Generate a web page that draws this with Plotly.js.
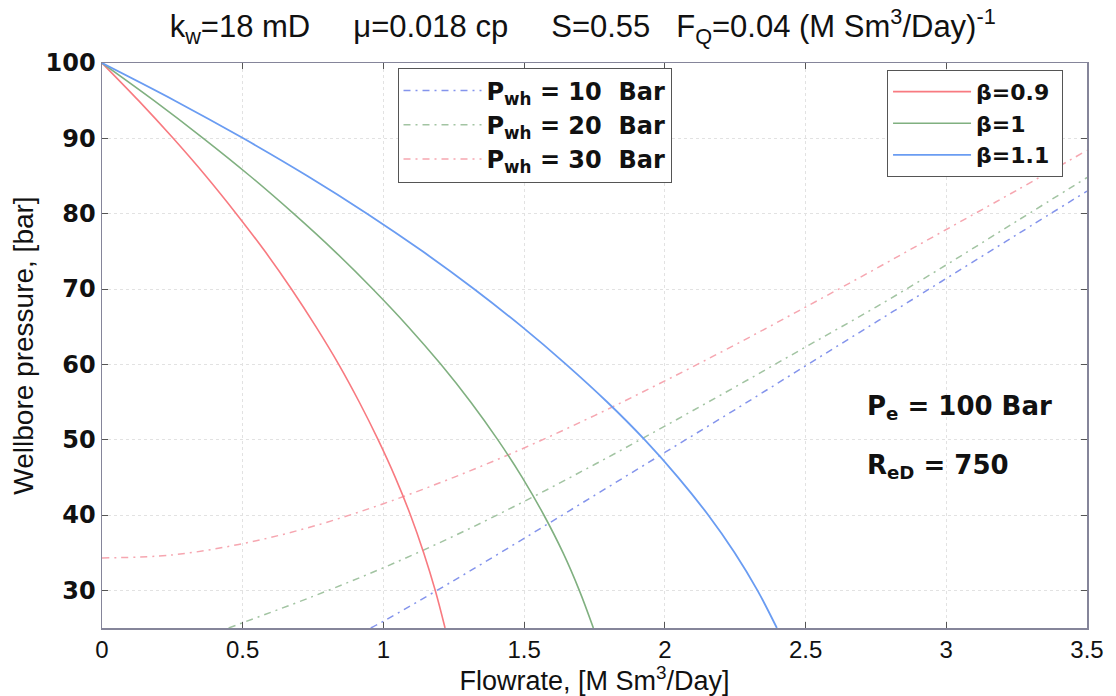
<!DOCTYPE html>
<html>
<head>
<meta charset="utf-8">
<script src="https://cdn.plot.ly/plotly-3.0.1.min.js"></script>
<style>html,body{margin:0;padding:0;background:#fff;}#chart{width:1116px;height:696px;}</style>
</head>
<body>
<div id="chart"></div>
<script>
// IPR curves (solid): flowrate [M Sm3/Day] vs wellbore pressure [bar]
const beta09_q = [0, 0.130, 0.253, 0.369, 0.477, 0.579, 0.673, 0.760, 0.841, 0.914, 0.981, 1.042, 1.096, 1.143, 1.184, 1.219];
const beta09_p = [100, 95, 90, 85, 80, 75, 70, 65, 60, 55, 50, 45, 40, 35, 30, 25];
const beta10_q = [0, 0.185, 0.360, 0.526, 0.681, 0.827, 0.962, 1.088, 1.204, 1.310, 1.406, 1.493, 1.570, 1.638, 1.696, 1.746];
const beta10_p = [100, 95, 90, 85, 80, 75, 70, 65, 60, 55, 50, 45, 40, 35, 30, 25];
const beta11_q = [0, 0.259, 0.502, 0.730, 0.942, 1.139, 1.322, 1.492, 1.649, 1.795, 1.928, 2.047, 2.154, 2.248, 2.329, 2.398];
const beta11_p = [100, 95, 90, 85, 80, 75, 70, 65, 60, 55, 50, 45, 40, 35, 30, 25];
// Tubing curves (dashed)
const pwh10_q = [0.955, 1.0, 1.25, 1.5, 1.75, 2.0, 2.25, 2.5, 2.75, 3.0, 3.25, 3.5];
const pwh10_p = [25, 25.9, 31.3, 36.9, 42.6, 48.3, 54.0, 59.8, 65.6, 71.4, 77.2, 83.0];
const pwh20_q = [0.45, 0.5, 0.75, 1.0, 1.25, 1.5, 1.75, 2.0, 2.25, 2.5, 2.75, 3.0, 3.25, 3.5];
const pwh20_p = [25, 25.7, 29.2, 33.0, 37.2, 41.8, 46.7, 51.8, 57.0, 62.3, 67.6, 73.2, 79.0, 84.8];
const pwh30_q = [0, 0.25, 0.5, 0.75, 1.0, 1.25, 1.5, 1.75, 2.0, 2.25, 2.5, 2.75, 3.0, 3.25, 3.5];
const pwh30_p = [34.3, 34.7, 36.2, 38.5, 41.5, 45.0, 48.9, 53.2, 57.8, 62.6, 67.6, 72.7, 77.9, 83.1, 88.4];
const xTicks = [0, 0.5, 1, 1.5, 2, 2.5, 3, 3.5];
const xTickText = ['0', '0.5', '1', '1.5', '2', '2.5', '3', '3.5'];
const yTicks = [30, 40, 50, 60, 70, 80, 90, 100];

const FONT = 'Liberation Sans, Arial, sans-serif';
const BOLD = 'DejaVu Sans, sans-serif';
const DASH = '7px,5px,2px,5px';
const NB = n => '\u00a0'.repeat(n);

const traces = [
  {x: pwh10_q, y: pwh10_p, name: 'P<sub>wh</sub> = 10' + NB(2) + 'Bar', mode: 'lines', line: {color: '#8494ec', width: 1.5, dash: DASH, shape: 'spline'}, legend: 'legend'},
  {x: pwh20_q, y: pwh20_p, name: 'P<sub>wh</sub> = 20' + NB(2) + 'Bar', mode: 'lines', line: {color: '#a2c4a2', width: 1.5, dash: DASH, shape: 'spline'}, legend: 'legend'},
  {x: pwh30_q, y: pwh30_p, name: 'P<sub>wh</sub> = 30' + NB(2) + 'Bar', mode: 'lines', line: {color: '#f6a6b0', width: 1.5, dash: DASH, shape: 'spline'}, legend: 'legend'},
  {x: beta09_q, y: beta09_p, name: 'β=0.9' + NB(1), mode: 'lines', line: {color: '#f87a80', width: 1.6, shape: 'spline'}, legend: 'legend2'},
  {x: beta10_q, y: beta10_p, name: 'β=1', mode: 'lines', line: {color: '#80b080', width: 1.6, shape: 'spline'}, legend: 'legend2'},
  {x: beta11_q, y: beta11_p, name: 'β=1.1' + NB(1), mode: 'lines', line: {color: '#6a9cf2', width: 1.8, shape: 'spline'}, legend: 'legend2'}
];

const layout = {
  width: 1116, height: 696,
  margin: {l: 102, r: 29, t: 63, b: 68},
  paper_bgcolor: '#fff', plot_bgcolor: '#fff',
  font: {family: FONT, size: 20, color: '#111'},
  title: {
    text: 'k<sub>w</sub>=18 mD' + NB(5) + 'μ=0.018 cp' + NB(5) + 'S=0.55' + NB(3) + 'F<sub>Q</sub>=0.04 (M Sm<sup>3</sup>/Day)<sup>-1</sup>',
    font: {family: FONT, size: 31, color: '#111'},
    x: 0.152, xanchor: 'left', xref: 'container', y: 0.962, yanchor: 'middle', yref: 'container'
  },
  xaxis: {
    range: [0, 3.5], tickvals: xTicks, ticktext: xTickText,
    showgrid: true, gridcolor: '#e2e2e2', griddash: 'dot', gridwidth: 1,
    zeroline: false, showline: true, linecolor: '#85859a', linewidth: 1.5, mirror: 'ticks',
    ticks: 'inside', ticklen: 6, tickcolor: '#555',
    tickfont: {family: FONT, size: 24, color: '#111'},
    automargin: false,
    title: {text: 'Flowrate, [M Sm<sup>3</sup>/Day]', font: {family: FONT, size: 27, color: '#111'}, standoff: 5}
  },
  yaxis: {
    range: [25, 100], tickvals: yTicks,
    showgrid: true, gridcolor: '#e2e2e2', griddash: 'dot', gridwidth: 1,
    zeroline: false, showline: true, linecolor: '#85859a', linewidth: 1.5, mirror: 'ticks',
    ticks: 'inside', ticklen: 6, tickcolor: '#555',
    tickfont: {family: BOLD, size: 24, color: '#111', weight: 'bold'},
    automargin: false,
    title: {text: 'Wellbore pressure, [bar]', font: {family: FONT, size: 28, color: '#111'}, standoff: 4}
  },
  legend: {
    x: 0.300, y: 0.992, xanchor: 'left', yanchor: 'top',
    bgcolor: '#fff', bordercolor: '#555', borderwidth: 1,
    font: {family: BOLD, size: 24, color: '#111', weight: 'bold'},
    itemwidth: 78, tracegroupgap: 0
  },
  legend2: {
    x: 0.797, y: 0.988, xanchor: 'left', yanchor: 'top',
    bgcolor: '#fff', bordercolor: '#555', borderwidth: 1,
    font: {family: BOLD, size: 22, color: '#111', weight: 'bold'},
    itemwidth: 78
  },
  showlegend: true,
  annotations: [
    {xref: 'paper', yref: 'paper', x: 0.775, y: 0.391, xanchor: 'left', yanchor: 'middle', showarrow: false,
     text: 'P<sub>e</sub> = 100 Bar', font: {family: BOLD, size: 26, color: '#111', weight: 'bold'}},
    {xref: 'paper', yref: 'paper', x: 0.775, y: 0.285, xanchor: 'left', yanchor: 'middle', showarrow: false,
     text: 'R<sub>eD</sub> = 750', font: {family: BOLD, size: 26, color: '#111', weight: 'bold'}}
  ]
};

Plotly.newPlot('chart', traces, layout, {displayModeBar: false, staticPlot: true});
</script>
</body>
</html>
